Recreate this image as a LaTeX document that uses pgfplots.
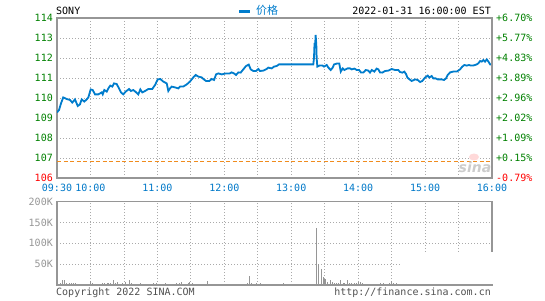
\documentclass[border=0pt]{standalone}
\usepackage{fontspec}
\setmainfont{DejaVu Sans Mono}
\newfontfamily\cjk{Noto Sans CJK SC}
\newfontfamily\sansf{DejaVu Sans}
\usepackage{pgfplots}
\pgfplotsset{compat=1.18}
\definecolor{pline}{RGB}{0,124,204}
\definecolor{lgreen}{RGB}{0,128,0}
\definecolor{tblue}{RGB}{0,120,200}
\definecolor{gridc}{RGB}{170,170,170}
\definecolor{axc}{RGB}{150,150,150}
\definecolor{volc}{RGB}{150,150,150}
\definecolor{dorange}{RGB}{240,140,30}
\definecolor{copyc}{RGB}{80,80,80}
\begin{document}
\begin{tikzpicture}[x=1pt,y=1pt]
\useasboundingbox (0,0) rectangle (545,300);
\pgfplotsset{
  base/.style={scale only axis, width=435pt, anchor=south west,
    axis line style={draw=axc, line width=1.2pt},
    grid style={draw=gridc, line width=0.8pt, dash pattern=on 1pt off 2pt},
    major tick length=0pt, xmin=0, xmax=390, xtick={0,30,...,390},
    tick label style={font=\fontsize{10}{12}\selectfont, inner sep=0pt},
  },
}
% price panel
\begin{axis}[base, at={(57pt,122pt)}, height=160pt, ymin=106, ymax=114,
  grid=major,
  ytick={106,107,...,114},
  yticklabels={\textcolor{red}{106},107,108,109,110,111,112,113,114},
  yticklabel style={text=lgreen, anchor=east, xshift=-4pt},
  xticklabels={09:30,10:00,,11:00,,12:00,,13:00,,14:00,,15:00,,16:00},
  xticklabel style={text=tblue, anchor=north, yshift=-6pt}]
\addplot[dorange, line width=1.2pt, dash pattern=on 4pt off 2.5pt, forget plot] coordinates {(0,106.84) (390,106.84)};
\addplot[pline, line width=1.8pt, no marks] coordinates {
(0,109.28)(1.8,109.40)(3.6,109.73)(5.6,110.03)(8.7,109.95)(11.7,109.90)(13.7,109.77)(16.1,109.93)(18.6,109.60)(20.6,109.68)(22.1,109.93)(24.5,109.82)(26.6,109.93)(28.1,110.03)(30.2,110.43)(32.0,110.40)(34.1,110.18)(37.0,110.18)(40.1,110.28)(41.0,110.18)(42.4,110.40)(44.6,110.32)(46.0,110.48)(47.8,110.62)(49.6,110.57)(51.1,110.73)(53.5,110.70)(55.6,110.48)(57.4,110.28)(59.4,110.18)(61.6,110.32)(64.6,110.45)(66.3,110.35)(68.4,110.40)(70.6,110.30)(72.9,110.18)(74.7,110.43)(76.5,110.28)(78.9,110.35)(81.9,110.45)(85.4,110.45)(87.9,110.65)(90.3,110.93)(92.6,110.95)(95.3,110.82)(98.4,110.73)(99.8,110.35)(101.3,110.48)(102.8,110.57)(105.8,110.53)(108.8,110.48)(110.3,110.57)(113.2,110.57)(116.3,110.68)(119.2,110.82)(122.2,111.03)(124.4,111.15)(126.7,111.07)(129.7,111.03)(131.2,110.95)(133.6,110.85)(136.6,110.85)(138.7,110.95)(140.8,110.90)(142.6,111.18)(144.6,111.23)(147.7,111.18)(150.6,111.22)(154.5,111.22)(156.6,111.28)(158.7,111.23)(160.5,111.15)(162.6,111.28)(164.7,111.27)(167.0,111.43)(169.5,111.60)(171.9,111.67)(173.7,111.43)(176.0,111.35)(178.4,111.35)(180.5,111.45)(182.0,111.35)(185.0,111.37)(188.0,111.45)(189.4,111.52)(192.5,111.48)(194.6,111.57)(197.0,111.60)(199.0,111.68)(229.8,111.68)(230.4,112.00)(230.9,112.75)(231.3,112.50)(231.9,113.15)(232.5,112.65)(232.8,112.00)(233.4,111.57)(235.2,111.62)(238.2,111.62)(239.4,111.57)(241.8,111.65)(243.3,111.52)(245.4,111.40)(247.2,111.52)(248.4,111.68)(250.8,111.72)(253.1,111.72)(254.4,111.32)(256.2,111.48)(257.6,111.40)(260.6,111.48)(262.7,111.48)(264.2,111.43)(266.6,111.47)(268.7,111.40)(270.8,111.40)(272.6,111.27)(274.6,111.27)(276.8,111.40)(279.1,111.37)(280.6,111.27)(282.2,111.40)(284.5,111.32)(286.6,111.47)(288.1,111.43)(289.6,111.28)(291.7,111.27)(294.1,111.35)(297.0,111.37)(300.1,111.45)(303.0,111.40)(306.0,111.40)(307.5,111.30)(309.6,111.27)(311.4,111.32)(312.9,111.20)(314.1,111.03)(315.6,110.95)(318.0,110.85)(321.0,110.93)(323.4,110.90)(325.5,110.80)(327.5,110.85)(329.9,111.02)(332.4,111.12)(333.8,111.02)(335.9,111.10)(337.4,110.98)(339.5,110.98)(341.3,110.93)(344.9,110.93)(347.0,110.90)(348.8,110.98)(350.3,111.15)(352.4,111.28)(355.3,111.32)(358.4,111.32)(359.8,111.37)(361.3,111.43)(363.4,111.57)(365.2,111.65)(367.3,111.62)(369.4,111.65)(371.2,111.62)(372.7,111.62)(374.8,111.65)(376.3,111.68)(377.7,111.73)(379.3,111.85)(380.8,111.82)(382.3,111.90)(383.8,111.82)(385.3,111.93)(386.8,111.82)(388.3,111.68)(390,111.68)
};
\end{axis}
% right percentage axis
\begin{axis}[base, at={(57pt,122pt)}, height=160pt, ymin=106, ymax=114,
  axis x line=none, axis y line*=right,
  ytick={106,107,...,114},
  yticklabels={\textcolor{red}{-0.79\%},+0.15\%,+1.09\%,+2.02\%,+2.96\%,+3.89\%,+4.83\%,+5.77\%,+6.70\%},
  yticklabel style={text=lgreen, anchor=west, xshift=4pt}]
\end{axis}
% volume panel
\begin{axis}[base, at={(57pt,15pt)}, height=83.3pt, ymin=0, ymax=200,
  grid=major, clip=false,
  ytick={0,50,100,150,200},
  yticklabels={,50K,100K,150K,200K},
  yticklabel style={text=axc, anchor=east, xshift=-4pt},
  xticklabels={,,,,,,,,,,,,,}]
\addplot[ycomb, draw=volc, line width=1pt, no marks] coordinates {
(0,34)(2.7,6)(4.5,12)(6.3,12)(8.1,6)(10.8,5.6)(12.6,4)(14.6,5)(16.7,4)(19.1,2.4)(21.2,2.4)(23.3,2.4)(25.4,2.4)(27.5,2.4)(29.9,10)(31.7,6)(33.5,3)(35.6,2.4)(37.7,2.4)(39.5,2.4)(41,5)(43,5)(45.1,5)(46.6,5)(48.4,4)(50.5,12)(52.6,6)(54.4,7)(56.8,3)(58.9,6)(61,6.4)(62.8,3)(64.8,12)(67,4)(68.8,3)(70.8,3)(72.9,2.4)(74.7,5)(76.8,3)(78.9,3)(80.7,3)(82.8,3)(84.9,2.4)(86.7,5)(88.8,6)(90.8,3)(93.2,2.4)(95.3,2.4)(97.5,5)(99.8,3)(101.6,3)(103.7,3)(105.2,2.4)(107.3,6)(109.4,5)(111.8,7)(113.6,2.4)(115.4,3)(117.7,6)(119.2,8)(121.3,4)(123.1,3)(125.2,3)(127.3,3)(129.7,3)(131.2,3)(133,3)(134.8,10)(136.6,2.4)(138.7,2.4)(140.8,2.4)(142.8,2.4)(145,2.4)(147.7,3)(150.6,2.4)(152.7,2.4)(154.8,2.4)(156.9,2.4)(159,2.4)(161.1,2.4)(163.2,2.4)(165.3,2.4)(167,2.4)(168.6,3)(170.4,6)(172.4,22)(174.6,5)(176.6,3)(179,4)(181.1,3)(182.6,5)(186.5,2.4)(188.6,2.4)(190.7,2.4)(192.8,2.4)(194.9,2.4)(197,2.4)(199,2.4)(202.9,5)(232.5,136)(234.3,50)(237.3,38)(238.8,19)(239.7,14)(240.9,14)(242.7,7)(245.1,11)(246.8,8)(248.6,6)(250.8,5)(252.8,5)(254.6,12)(256.7,6)(258.2,5)(260.3,12)(262.4,4)(264.2,6)(266.3,5)(268.1,6)(270.2,7)(271.9,8)(273.7,4)(276.2,2.4)(278.2,2.4)(280.4,2.4)(282.4,2.4)(284.5,2.4)(286.6,2.4)(289.6,5)(292.5,5)(295.5,3)(297.9,5)(299.5,10)(301.6,5)(304.6,4)
};
\fill[white] (axis cs:307.5,1.6) rectangle (axis cs:391.6,79);
\end{axis}
% texts
\node[anchor=base west, inner sep=0pt, font=\fontsize{10}{12}\selectfont] at (56,285) {SONY};
\draw[pline, line width=3pt] (239,288.5) -- (250,288.5);
\node[anchor=base west, inner sep=0pt, text=pline, font=\cjk\fontsize{11}{13}\selectfont] at (256,285) {价格};
\node[anchor=base east, inner sep=0pt, font=\fontsize{10}{12}\selectfont] at (491,285) {2022-01-31 16:00:00 EST};
\node[anchor=base west, inner sep=0pt, text=copyc, font=\fontsize{10}{12}\selectfont] at (56,4.3) {Copyright 2022 SINA.COM};
\node[anchor=base east, inner sep=0pt, text=copyc, font=\fontsize{10}{12}\selectfont] at (491,4.3) {http://finance.sina.com.cn};
\fill[red!15] (474,143) ellipse (5pt and 3.5pt);
\node[text=gray!40, inner sep=0pt, font=\sansf\bfseries\itshape\fontsize{14}{14}\selectfont] at (475,133) {sina};
\end{tikzpicture}
\end{document}
